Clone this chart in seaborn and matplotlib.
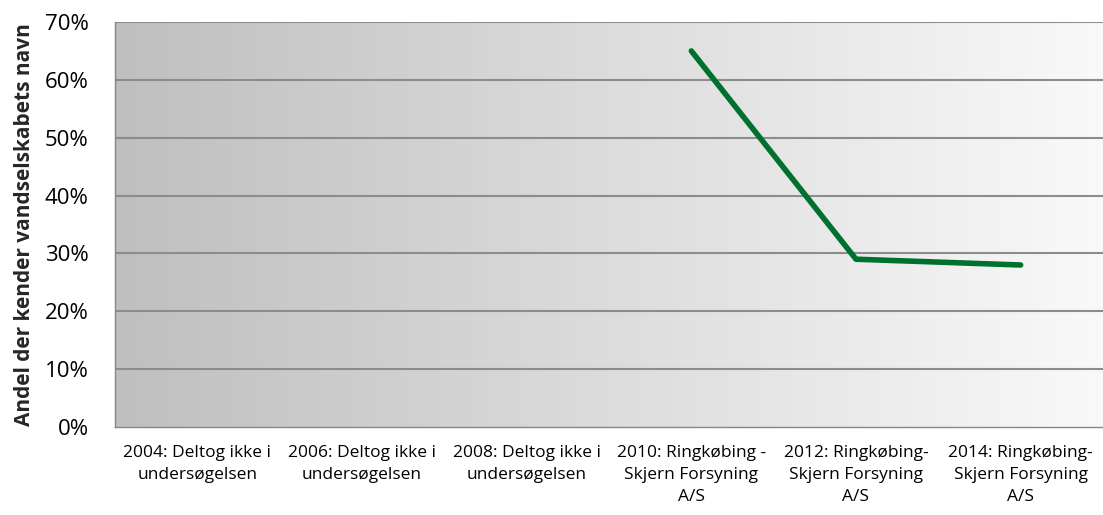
import numpy as np
import pandas as pd
import matplotlib
matplotlib.use('Agg')
import matplotlib.pyplot as plt
import seaborn as sns
from matplotlib.colors import LinearSegmentedColormap

# data
categories = ['2004: Deltog ikke i\nundersøgelsen',
              '2006: Deltog ikke i\nundersøgelsen',
              '2008: Deltog ikke i\nundersøgelsen',
              '2010: Ringkøbing -\nSkjern Forsyning\nA/S',
              '2012: Ringkøbing-\nSkjern Forsyning\nA/S',
              '2014: Ringkøbing-\nSkjern Forsyning\nA/S']
share = [np.nan, np.nan, np.nan, 0.65, 0.29, 0.28]
y_ticks = [0, 0.1, 0.2, 0.3, 0.4, 0.5, 0.6, 0.7]

df = pd.DataFrame({'pos': range(len(categories)), 'share': share})

sns.set_style('white')
plt.rcParams['font.family'] = ['Open Sans', 'DejaVu Sans']
plt.rcParams['text.color'] = 'black'
plt.rcParams['xtick.color'] = 'black'
plt.rcParams['ytick.color'] = 'black'

fig = plt.figure(figsize=(11.03, 5.15), dpi=100)
ax = fig.add_axes([115 / 1103, 88 / 515, 1 - 115 / 1103, 405 / 515])

# gradient background, dark grey on the left to near white on the right
cmap = LinearSegmentedColormap.from_list('bg', ['#bfbfbf', '#f9f9f9'])
grad = np.linspace(0, 1, 256).reshape(1, -1)
ax.imshow(grad, cmap=cmap, aspect='auto', extent=[-0.5, 5.5, 0, 0.7], zorder=0)

sns.lineplot(data=df, x='pos', y='share', color='#00702e', linewidth=4,
             solid_capstyle='round', ax=ax, zorder=3)

ax.set_xlim(-0.5, 5.5)
ax.set_ylim(0, 0.7)
ax.set_yticks(y_ticks)
ax.set_yticklabels([f'{int(round(t * 100))}%' for t in y_ticks], fontsize=16)
ax.set_xticks(range(len(categories)))
ax.set_xticklabels(categories, fontsize=12.5, linespacing=1.5)
ax.set_xticks(np.arange(-0.5, 6, 1), minor=True)
ax.tick_params(axis='x', which='major', length=0, pad=13)
ax.tick_params(axis='x', which='minor', length=5, color='#868686', width=1)
ax.tick_params(axis='y', length=5, color='#868686', width=1, pad=14)

for t in y_ticks[1:]:
    ax.axhline(t, color='#8c8c8c', linewidth=1.5, zorder=1)

for side in ['top', 'right']:
    ax.spines[side].set_visible(False)
for side in ['left', 'bottom']:
    ax.spines[side].set_color('#868686')
    ax.spines[side].set_linewidth(1)

ax.set_xlabel('')
ax.set_ylabel('Andel der kender vandselskabets navn', fontsize=15,
              fontweight='bold', labelpad=7)

plt.savefig('out.png', dpi=100)
